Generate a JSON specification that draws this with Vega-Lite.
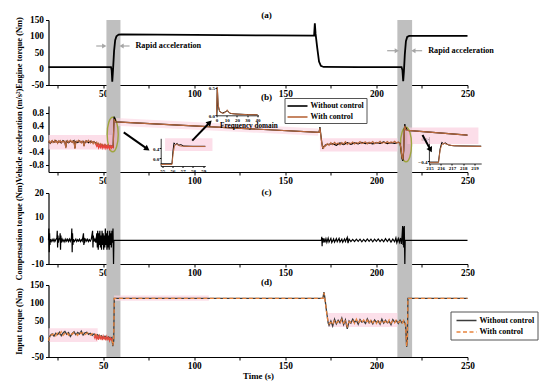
{
"$schema":"https://vega.github.io/schema/vega-lite/v6.json",
"background":"white",
"padding":{"left":14.5,"top":10,"right":5,"bottom":4},
"datasets":{
"ylabs":[{"p":"a","v":150,"label":"150"},{"p":"a","v":100,"label":"100"},{"p":"a","v":50,"label":"50"},{"p":"a","v":0,"label":"0"},{"p":"a","v":-50,"label":"-50"},
{"p":"b","v":0.8,"label":"0.8"},{"p":"b","v":0.4,"label":"0.4"},{"p":"b","v":0,"label":"0.0"},{"p":"b","v":-0.4,"label":"-0.4"},{"p":"b","v":-0.8,"label":"-0.8"},
{"p":"c","v":20,"label":"20"},{"p":"c","v":10,"label":"10"},{"p":"c","v":0,"label":"0"},{"p":"c","v":-10,"label":"-10"},
{"p":"d","v":150,"label":"150"},{"p":"d","v":100,"label":"100"},{"p":"d","v":50,"label":"50"},{"p":"d","v":0,"label":"0"},{"p":"d","v":-50,"label":"-50"}],
"plabels":[{"p":"a","t":139.7,"v":165.4,"label":"(a)"},{"p":"b","t":139.7,"v":1.264,"label":"(b)"},{"p":"c","t":139.7,"v":20.55,"label":"(c)"},{"p":"d","t":139.7,"v":159.2,"label":"(d)"}],
"bands":[{"t":51.8,"t2":59.5},{"t":211.5,"t2":219.6}],
"eng":[{"t":20,"v":5},{"t":54.3,"v":5},{"t":54.7,"v":-5},{"t":55.0,"v":-40},{"t":55.4,"v":-5},{"t":56.0,"v":55},{"t":56.6,"v":88},{"t":57.3,"v":100},{"t":58.5,"v":105},{"t":60,"v":106},{"t":100,"v":104},{"t":140,"v":102.5},{"t":165.8,"v":102},{"t":166.2,"v":140},{"t":166.6,"v":108},{"t":167.5,"v":65},{"t":168.5,"v":22},{"t":169.5,"v":9},{"t":171,"v":5.5},{"t":190,"v":5},{"t":213.8,"v":5},{"t":214.3,"v":-5},{"t":214.7,"v":-38},{"t":215.1,"v":-8},{"t":215.6,"v":45},{"t":216.2,"v":85},{"t":216.9,"v":98},{"t":218,"v":101},{"t":250,"v":101}],
"garrows":[{"t":46.2,"t2":50.4,"v":70},{"t":60.4,"t2":64.5,"v":70},{"t":205.9,"t2":211,"v":55.5},{"t":220.6,"t2":225.1,"v":55.5}],
"gheads":[{"t":50.6,"v":70,"d":"r"},{"t":60.1,"v":70,"d":"l"},{"t":211.2,"v":55.5,"d":"r"},{"t":220.3,"v":55.5,"d":"l"}],
"ann_a":[{"t":67.7,"v":70,"label":"Rapid acceleration"},{"t":228.4,"v":55.5,"label":"Rapid acceleration"}],
"acc":[
{"t":20,"v":-0.08,"s":"Without control"},{"t":21,"v":-0.13,"s":"Without control"},{"t":22,"v":-0.06,"s":"Without control"},{"t":23,"v":-0.10,"s":"Without control"},{"t":24,"v":-0.05,"s":"Without control"},{"t":25,"v":-0.11,"s":"Without control"},{"t":26,"v":-0.07,"s":"Without control"},{"t":27,"v":-0.12,"s":"Without control"},{"t":28,"v":-0.05,"s":"Without control"},{"t":29,"v":-0.09,"s":"Without control"},{"t":29.5,"v":-0.25,"s":"Without control"},{"t":30,"v":-0.07,"s":"Without control"},{"t":31,"v":-0.11,"s":"Without control"},{"t":32,"v":-0.06,"s":"Without control"},{"t":33,"v":-0.09,"s":"Without control"},{"t":34,"v":-0.05,"s":"Without control"},{"t":34.5,"v":-0.27,"s":"Without control"},{"t":35,"v":-0.08,"s":"Without control"},{"t":36,"v":-0.11,"s":"Without control"},{"t":37,"v":-0.06,"s":"Without control"},{"t":38,"v":-0.10,"s":"Without control"},{"t":39,"v":-0.07,"s":"Without control"},{"t":39.5,"v":-0.20,"s":"Without control"},{"t":40,"v":-0.10,"s":"Without control"},{"t":41,"v":-0.06,"s":"Without control"},{"t":42,"v":-0.11,"s":"Without control"},{"t":43,"v":-0.07,"s":"Without control"},{"t":44,"v":-0.10,"s":"Without control"},{"t":45,"v":-0.09,"s":"Without control"},{"t":46,"v":-0.13,"s":"Without control"},{"t":47,"v":-0.15,"s":"Without control"},{"t":48,"v":-0.18,"s":"Without control"},{"t":49,"v":-0.19,"s":"Without control"},{"t":50,"v":-0.21,"s":"Without control"},{"t":51,"v":-0.19,"s":"Without control"},{"t":52,"v":-0.22,"s":"Without control"},{"t":53,"v":-0.21,"s":"Without control"},{"t":54,"v":-0.23,"s":"Without control"},{"t":55,"v":-0.21,"s":"Without control"},{"t":55.5,"v":-0.24,"s":"Without control"},{"t":55.8,"v":0.35,"s":"Without control"},{"t":56.05,"v":0.68,"s":"Without control"},{"t":56.3,"v":0.55,"s":"Without control"},{"t":56.6,"v":0.60,"s":"Without control"},{"t":57,"v":0.52,"s":"Without control"},{"t":168.5,"v":0.20,"s":"Without control"},{"t":169,"v":0.36,"s":"Without control"},{"t":169.5,"v":0.12,"s":"Without control"},{"t":170,"v":-0.10,"s":"Without control"},{"t":170.5,"v":-0.27,"s":"Without control"},{"t":171,"v":-0.24,"s":"Without control"},{"t":172,"v":-0.18,"s":"Without control"},{"t":174,"v":-0.16,"s":"Without control"},{"t":176,"v":-0.14,"s":"Without control"},{"t":178,"v":-0.19,"s":"Without control"},{"t":180,"v":-0.12,"s":"Without control"},{"t":182,"v":-0.17,"s":"Without control"},{"t":184,"v":-0.11,"s":"Without control"},{"t":186,"v":-0.16,"s":"Without control"},{"t":188,"v":-0.12,"s":"Without control"},{"t":190,"v":-0.15,"s":"Without control"},{"t":192,"v":-0.10,"s":"Without control"},{"t":194,"v":-0.14,"s":"Without control"},{"t":196,"v":-0.12,"s":"Without control"},{"t":198,"v":-0.15,"s":"Without control"},{"t":200,"v":-0.11,"s":"Without control"},{"t":202,"v":-0.13,"s":"Without control"},{"t":204,"v":-0.09,"s":"Without control"},{"t":206,"v":-0.14,"s":"Without control"},{"t":208,"v":-0.11,"s":"Without control"},{"t":210,"v":-0.13,"s":"Without control"},{"t":212,"v":-0.10,"s":"Without control"},{"t":213,"v":-0.13,"s":"Without control"},{"t":213.5,"v":-0.32,"s":"Without control"},{"t":214,"v":-0.58,"s":"Without control"},{"t":214.5,"v":-0.66,"s":"Without control"},{"t":215,"v":-0.35,"s":"Without control"},{"t":215.3,"v":0.28,"s":"Without control"},{"t":215.6,"v":0.45,"s":"Without control"},{"t":215.9,"v":0.30,"s":"Without control"},{"t":216.3,"v":0.33,"s":"Without control"},{"t":217,"v":0.26,"s":"Without control"},{"t":250,"v":0.12,"s":"Without control"},
{"t":20,"v":-0.10,"s":"With control"},{"t":20.5,"v":-0.06,"s":"With control"},{"t":21,"v":-0.12,"s":"With control"},{"t":21.5,"v":-0.08,"s":"With control"},{"t":22,"v":-0.05,"s":"With control"},{"t":22.5,"v":-0.11,"s":"With control"},{"t":23,"v":-0.09,"s":"With control"},{"t":23.5,"v":-0.04,"s":"With control"},{"t":24,"v":-0.10,"s":"With control"},{"t":24.5,"v":-0.07,"s":"With control"},{"t":25,"v":-0.13,"s":"With control"},{"t":25.5,"v":-0.06,"s":"With control"},{"t":26,"v":-0.09,"s":"With control"},{"t":26.5,"v":-0.05,"s":"With control"},{"t":27,"v":-0.11,"s":"With control"},{"t":27.5,"v":-0.08,"s":"With control"},{"t":28,"v":-0.06,"s":"With control"},{"t":28.5,"v":-0.10,"s":"With control"},{"t":29,"v":-0.07,"s":"With control"},{"t":29.5,"v":-0.28,"s":"With control"},{"t":30,"v":-0.09,"s":"With control"},{"t":30.5,"v":-0.05,"s":"With control"},{"t":31,"v":-0.10,"s":"With control"},{"t":31.5,"v":-0.07,"s":"With control"},{"t":32,"v":-0.04,"s":"With control"},{"t":32.5,"v":-0.09,"s":"With control"},{"t":33,"v":-0.06,"s":"With control"},{"t":33.5,"v":-0.11,"s":"With control"},{"t":34,"v":-0.07,"s":"With control"},{"t":34.5,"v":-0.30,"s":"With control"},{"t":35,"v":-0.10,"s":"With control"},{"t":35.5,"v":-0.06,"s":"With control"},{"t":36,"v":-0.08,"s":"With control"},{"t":36.5,"v":-0.04,"s":"With control"},{"t":37,"v":-0.09,"s":"With control"},{"t":37.5,"v":-0.07,"s":"With control"},{"t":38,"v":-0.12,"s":"With control"},{"t":38.5,"v":-0.06,"s":"With control"},{"t":39,"v":-0.09,"s":"With control"},{"t":39.5,"v":-0.22,"s":"With control"},{"t":40,"v":-0.08,"s":"With control"},{"t":40.5,"v":-0.05,"s":"With control"},{"t":41,"v":-0.10,"s":"With control"},{"t":41.5,"v":-0.07,"s":"With control"},{"t":42,"v":-0.04,"s":"With control"},{"t":42.5,"v":-0.09,"s":"With control"},{"t":43,"v":-0.12,"s":"With control"},{"t":43.5,"v":-0.06,"s":"With control"},{"t":44,"v":-0.09,"s":"With control"},{"t":44.5,"v":-0.14,"s":"With control"},{"t":45,"v":-0.08,"s":"With control"},{"t":45.5,"v":-0.12,"s":"With control"},{"t":46,"v":-0.16,"s":"With control"},{"t":46.5,"v":-0.10,"s":"With control"},{"t":47,"v":-0.18,"s":"With control"},{"t":47.5,"v":-0.13,"s":"With control"},{"t":48,"v":-0.20,"s":"With control"},{"t":48.5,"v":-0.15,"s":"With control"},{"t":49,"v":-0.22,"s":"With control"},{"t":49.5,"v":-0.16,"s":"With control"},{"t":50,"v":-0.19,"s":"With control"},{"t":50.5,"v":-0.24,"s":"With control"},{"t":51,"v":-0.17,"s":"With control"},{"t":51.5,"v":-0.21,"s":"With control"},{"t":52,"v":-0.25,"s":"With control"},{"t":52.5,"v":-0.18,"s":"With control"},{"t":53,"v":-0.22,"s":"With control"},{"t":53.5,"v":-0.26,"s":"With control"},{"t":54,"v":-0.20,"s":"With control"},{"t":54.5,"v":-0.24,"s":"With control"},{"t":55,"v":-0.22,"s":"With control"},{"t":55.5,"v":-0.25,"s":"With control"},{"t":55.8,"v":0.30,"s":"With control"},{"t":56.0,"v":0.60,"s":"With control"},{"t":56.3,"v":0.56,"s":"With control"},{"t":56.7,"v":0.53,"s":"With control"},{"t":57,"v":0.52,"s":"With control"},{"t":168.5,"v":0.20,"s":"With control"},{"t":169,"v":0.33,"s":"With control"},{"t":169.5,"v":0.10,"s":"With control"},{"t":170,"v":-0.12,"s":"With control"},{"t":170.5,"v":-0.26,"s":"With control"},{"t":171,"v":-0.28,"s":"With control"},{"t":171.5,"v":-0.20,"s":"With control"},{"t":172,"v":-0.22,"s":"With control"},{"t":173,"v":-0.14,"s":"With control"},{"t":174,"v":-0.19,"s":"With control"},{"t":175,"v":-0.11,"s":"With control"},{"t":176,"v":-0.17,"s":"With control"},{"t":177,"v":-0.10,"s":"With control"},{"t":178,"v":-0.16,"s":"With control"},{"t":179,"v":-0.12,"s":"With control"},{"t":180,"v":-0.18,"s":"With control"},{"t":181,"v":-0.11,"s":"With control"},{"t":182,"v":-0.15,"s":"With control"},{"t":183,"v":-0.08,"s":"With control"},{"t":184,"v":-0.16,"s":"With control"},{"t":185,"v":-0.12,"s":"With control"},{"t":186,"v":-0.14,"s":"With control"},{"t":187,"v":-0.09,"s":"With control"},{"t":188,"v":-0.15,"s":"With control"},{"t":189,"v":-0.11,"s":"With control"},{"t":190,"v":-0.13,"s":"With control"},{"t":191,"v":-0.08,"s":"With control"},{"t":192,"v":-0.14,"s":"With control"},{"t":193,"v":-0.11,"s":"With control"},{"t":194,"v":-0.09,"s":"With control"},{"t":195,"v":-0.15,"s":"With control"},{"t":196,"v":-0.10,"s":"With control"},{"t":197,"v":-0.13,"s":"With control"},{"t":198,"v":-0.08,"s":"With control"},{"t":199,"v":-0.14,"s":"With control"},{"t":200,"v":-0.10,"s":"With control"},{"t":201,"v":-0.12,"s":"With control"},{"t":202,"v":-0.07,"s":"With control"},{"t":203,"v":-0.13,"s":"With control"},{"t":204,"v":-0.10,"s":"With control"},{"t":205,"v":-0.12,"s":"With control"},{"t":206,"v":-0.08,"s":"With control"},{"t":207,"v":-0.13,"s":"With control"},{"t":208,"v":-0.09,"s":"With control"},{"t":209,"v":-0.11,"s":"With control"},{"t":210,"v":-0.07,"s":"With control"},{"t":211,"v":-0.12,"s":"With control"},{"t":212,"v":-0.09,"s":"With control"},{"t":213,"v":-0.14,"s":"With control"},{"t":213.5,"v":-0.30,"s":"With control"},{"t":214,"v":-0.55,"s":"With control"},{"t":214.5,"v":-0.62,"s":"With control"},{"t":215,"v":-0.30,"s":"With control"},{"t":215.3,"v":0.25,"s":"With control"},{"t":215.6,"v":0.40,"s":"With control"},{"t":216,"v":0.30,"s":"With control"},{"t":216.5,"v":0.27,"s":"With control"},{"t":217,"v":0.26,"s":"With control"},{"t":250,"v":0.12,"s":"With control"}],
"acc_red":[{"t":46,"v":-0.15},{"t":46.5,"v":-0.22},{"t":47,"v":-0.17},{"t":47.5,"v":-0.27},{"t":48,"v":-0.19},{"t":48.5,"v":-0.26},{"t":49,"v":-0.18},{"t":49.5,"v":-0.28},{"t":50,"v":-0.20},{"t":50.5,"v":-0.27},{"t":51,"v":-0.19},{"t":51.5,"v":-0.29},{"t":52,"v":-0.21},{"t":52.5,"v":-0.28},{"t":53,"v":-0.20},{"t":53.5,"v":-0.30},{"t":54,"v":-0.22},{"t":54.5,"v":-0.28},{"t":55,"v":-0.21},{"t":55.5,"v":-0.27}],
"pink_b":[{"t":20,"t2":55,"v":-0.32,"v2":0.12},{"t":84,"t2":110,"v":-0.36,"v2":0.02},{"t":169,"t2":211.5,"v":-0.38,"v2":0.02},{"t":217,"t2":256,"v":-0.15,"v2":0.35}],
"accband":[{"t":57,"lo":0.40,"hi":0.64},{"t":168,"lo":0.10,"hi":0.32}],
"ell":[{"t":55.24,"v":0.136},{"t":216.24,"v":-0.167}],
"barrows":[{"id":1,"t":61.3,"v":0.2,"t2":74.2,"v2":-0.3},{"id":2,"t":98.9,"v":-0.05,"t2":108.5,"v2":0.5},{"id":3,"t":225.3,"v":0.12,"t2":229.7,"v2":-0.33}],
"in1":[{"t":54.85,"v":-0.22,"s":"Without control"},{"t":55.95,"v":-0.22,"s":"Without control"},{"t":56.05,"v":0.30,"s":"Without control"},{"t":56.15,"v":0.62,"s":"Without control"},{"t":56.3,"v":0.54,"s":"Without control"},{"t":56.45,"v":0.60,"s":"Without control"},{"t":56.6,"v":0.52,"s":"Without control"},{"t":56.8,"v":0.55,"s":"Without control"},{"t":57.1,"v":0.49,"s":"Without control"},{"t":58,"v":0.48,"s":"Without control"},{"t":59.2,"v":0.48,"s":"Without control"},
{"t":54.85,"v":-0.25,"s":"With control"},{"t":55.95,"v":-0.25,"s":"With control"},{"t":56.05,"v":0.15,"s":"With control"},{"t":56.2,"v":0.52,"s":"With control"},{"t":56.4,"v":0.56,"s":"With control"},{"t":56.7,"v":0.50,"s":"With control"},{"t":57,"v":0.48,"s":"With control"},{"t":58,"v":0.47,"s":"With control"},{"t":59.2,"v":0.47,"s":"With control"}],
"in2":[{"f":0,"a":0,"s":"Without control"},{"f":0.6,"a":0.2,"s":"Without control"},{"f":1.0,"a":0.42,"s":"Without control"},{"f":1.6,"a":0.18,"s":"Without control"},{"f":3,"a":0.07,"s":"Without control"},{"f":6,"a":0.04,"s":"Without control"},{"f":9.5,"a":0.07,"s":"Without control"},{"f":11,"a":0.08,"s":"Without control"},{"f":13,"a":0.035,"s":"Without control"},{"f":18,"a":0.025,"s":"Without control"},{"f":28,"a":0.015,"s":"Without control"},{"f":40,"a":0.01,"s":"Without control"},
{"f":0,"a":0,"s":"With control"},{"f":0.5,"a":0.3,"s":"With control"},{"f":0.9,"a":0.5,"s":"With control"},{"f":1.5,"a":0.22,"s":"With control"},{"f":2.5,"a":0.1,"s":"With control"},{"f":4,"a":0.05,"s":"With control"},{"f":7,"a":0.035,"s":"With control"},{"f":9,"a":0.06,"s":"With control"},{"f":10.5,"a":0.1,"s":"With control"},{"f":12,"a":0.05,"s":"With control"},{"f":15,"a":0.03,"s":"With control"},{"f":20,"a":0.02,"s":"With control"},{"f":30,"a":0.012,"s":"With control"},{"f":40,"a":0.01,"s":"With control"}],
"ann_b":[{"f":3.5,"a":-0.185,"label":"Frequency domain"}],
"in3":[{"t":214.95,"v":-0.44,"s":"Without control"},{"t":215.8,"v":-0.44,"s":"Without control"},{"t":215.95,"v":0.05,"s":"Without control"},{"t":216.1,"v":0.28,"s":"Without control"},{"t":216.25,"v":0.22,"s":"Without control"},{"t":216.4,"v":0.26,"s":"Without control"},{"t":216.7,"v":0.18,"s":"Without control"},{"t":217.2,"v":0.15,"s":"Without control"},{"t":219.6,"v":0.14,"s":"Without control"},
{"t":214.95,"v":-0.46,"s":"With control"},{"t":215.8,"v":-0.46,"s":"With control"},{"t":215.95,"v":0.0,"s":"With control"},{"t":216.1,"v":0.2,"s":"With control"},{"t":216.3,"v":0.24,"s":"With control"},{"t":216.6,"v":0.2,"s":"With control"},{"t":217,"v":0.16,"s":"With control"},{"t":218,"v":0.14,"s":"With control"},{"t":219.6,"v":0.13,"s":"With control"}],
"comp":[{"t":20,"v":0},{"t":20.2,"v":5},{"t":20.4,"v":-5},{"t":20.6,"v":3},{"t":20.8,"v":-2},{"t":21,"v":0.5},{"t":21.5,"v":-0.5},{"t":22,"v":0.4},{"t":22.5,"v":-0.4},{"t":23,"v":0.5},{"t":23.5,"v":-0.5},{"t":24,"v":0.3},{"t":24.6,"v":1},{"t":24.8,"v":4},{"t":25,"v":-3},{"t":25.2,"v":2},{"t":25.4,"v":-1},{"t":25.8,"v":0.5},{"t":26.2,"v":1},{"t":26.4,"v":3},{"t":26.6,"v":-4},{"t":26.8,"v":2},{"t":27,"v":-1},{"t":27.5,"v":0.5},{"t":28,"v":-0.5},{"t":28.5,"v":0.3},{"t":29,"v":-0.6},{"t":29.5,"v":0.5},{"t":30,"v":-0.3},{"t":30.5,"v":0.5},{"t":31,"v":-0.5},{"t":31.5,"v":0.5},{"t":32,"v":-0.4},{"t":32.6,"v":1},{"t":32.8,"v":5},{"t":33,"v":-5},{"t":33.2,"v":3},{"t":33.4,"v":-2},{"t":33.7,"v":0.5},{"t":34.2,"v":-0.5},{"t":35,"v":0.5},{"t":35.5,"v":-0.5},{"t":36,"v":0.3},{"t":36.5,"v":-0.3},{"t":37,"v":0.5},{"t":37.5,"v":-0.5},{"t":38,"v":0.3},{"t":38.5,"v":-0.3},{"t":39.2,"v":3},{"t":39.4,"v":-2},{"t":39.6,"v":1},{"t":40,"v":-0.5},{"t":40.5,"v":0.5},{"t":41,"v":-0.3},{"t":41.5,"v":0.5},{"t":42,"v":-0.5},{"t":42.5,"v":0.3},{"t":43,"v":-0.3},{"t":43.5,"v":0.5},{"t":44.2,"v":4},{"t":44.4,"v":-3},{"t":44.6,"v":2},{"t":45,"v":-0.5},{"t":45.5,"v":0.5},{"t":46,"v":-1},{"t":46.5,"v":3},{"t":46.8,"v":-3},{"t":47,"v":4},{"t":47.3,"v":-4},{"t":47.6,"v":3},{"t":47.9,"v":-2},{"t":48.2,"v":4},{"t":48.5,"v":-3},{"t":48.8,"v":2},{"t":49.1,"v":-4},{"t":49.4,"v":4},{"t":49.7,"v":-2},{"t":50,"v":3},{"t":50.3,"v":-4},{"t":50.6,"v":2},{"t":50.9,"v":-3},{"t":51.2,"v":5},{"t":51.5,"v":-2},{"t":51.8,"v":3},{"t":52.1,"v":-4},{"t":52.4,"v":4},{"t":52.7,"v":-3},{"t":53,"v":2},{"t":53.3,"v":-4},{"t":53.6,"v":4},{"t":53.9,"v":-2},{"t":54.2,"v":3},{"t":54.5,"v":-3},{"t":54.8,"v":4},{"t":55.1,"v":-1},{"t":55.4,"v":5},{"t":55.7,"v":-10},{"t":55.9,"v":0},{"t":169.8,"v":0},{"t":170,"v":1.5},{"t":170.2,"v":-2.5},{"t":170.4,"v":1},{"t":170.7,"v":-1},{"t":171.2,"v":0.8},{"t":171.7,"v":-0.9},{"t":172.3,"v":0.7},{"t":172.8,"v":-0.8},{"t":173.5,"v":0.9},{"t":174,"v":-0.7},{"t":175,"v":0.8},{"t":175.5,"v":-0.9},{"t":176.5,"v":0.6},{"t":177,"v":-0.8},{"t":178,"v":0.7},{"t":178.5,"v":-0.6},{"t":179.5,"v":0.8},{"t":180,"v":-0.7},{"t":181,"v":0.5},{"t":181.5,"v":-0.8},{"t":182.5,"v":0.6},{"t":183,"v":-0.5},{"t":184,"v":1.2},{"t":184.4,"v":-1.2},{"t":185,"v":0.5},{"t":186,"v":-0.5},{"t":187,"v":0.4},{"t":188,"v":-0.5},{"t":189,"v":0.5},{"t":190,"v":-0.4},{"t":191,"v":0.5},{"t":192,"v":-0.6},{"t":193,"v":0.4},{"t":194,"v":-0.5},{"t":195,"v":0.6},{"t":196,"v":-0.4},{"t":197,"v":0.5},{"t":198,"v":-0.6},{"t":199,"v":0.5},{"t":200,"v":-0.4},{"t":201,"v":0.6},{"t":202,"v":-0.5},{"t":203,"v":0.4},{"t":204,"v":-0.6},{"t":205,"v":0.7},{"t":206,"v":-0.5},{"t":207,"v":0.6},{"t":208,"v":-0.7},{"t":209,"v":0.5},{"t":210,"v":-0.6},{"t":210.7,"v":1},{"t":211.2,"v":-1},{"t":212,"v":0.8},{"t":212.6,"v":-0.8},{"t":213.2,"v":1},{"t":213.7,"v":-1.5},{"t":214.1,"v":2},{"t":214.4,"v":6},{"t":214.6,"v":-2},{"t":214.8,"v":5.5},{"t":215.0,"v":-3},{"t":215.3,"v":6},{"t":215.6,"v":-10},{"t":215.8,"v":0},{"t":250,"v":0}],
"inp":[
{"t":20,"v":-8,"s":"Without control"},{"t":20.5,"v":4,"s":"Without control"},{"t":21,"v":10,"s":"Without control"},{"t":22,"v":14,"s":"Without control"},{"t":23,"v":8,"s":"Without control"},{"t":24,"v":16,"s":"Without control"},{"t":25,"v":12,"s":"Without control"},{"t":26,"v":19,"s":"Without control"},{"t":27,"v":9,"s":"Without control"},{"t":28,"v":17,"s":"Without control"},{"t":29,"v":21,"s":"Without control"},{"t":30,"v":13,"s":"Without control"},{"t":31,"v":18,"s":"Without control"},{"t":32,"v":7,"s":"Without control"},{"t":33,"v":15,"s":"Without control"},{"t":34,"v":20,"s":"Without control"},{"t":35,"v":12,"s":"Without control"},{"t":36,"v":18,"s":"Without control"},{"t":37,"v":14,"s":"Without control"},{"t":38,"v":22,"s":"Without control"},{"t":39,"v":11,"s":"Without control"},{"t":40,"v":17,"s":"Without control"},{"t":41,"v":19,"s":"Without control"},{"t":42,"v":13,"s":"Without control"},{"t":43,"v":16,"s":"Without control"},{"t":44,"v":10,"s":"Without control"},{"t":45,"v":14,"s":"Without control"},{"t":46,"v":8,"s":"Without control"},{"t":47,"v":12,"s":"Without control"},{"t":48,"v":5,"s":"Without control"},{"t":49,"v":9,"s":"Without control"},{"t":50,"v":3,"s":"Without control"},{"t":51,"v":8,"s":"Without control"},{"t":52,"v":2,"s":"Without control"},{"t":53,"v":6,"s":"Without control"},{"t":54,"v":0,"s":"Without control"},{"t":54.8,"v":4,"s":"Without control"},{"t":55.3,"v":-20,"s":"Without control"},{"t":55.8,"v":-5,"s":"Without control"},{"t":56.1,"v":113,"s":"Without control"},{"t":170.6,"v":113,"s":"Without control"},{"t":171.2,"v":130,"s":"Without control"},{"t":171.6,"v":118,"s":"Without control"},{"t":172.5,"v":82,"s":"Without control"},{"t":173.5,"v":45,"s":"Without control"},{"t":174,"v":38,"s":"Without control"},{"t":175,"v":50,"s":"Without control"},{"t":176,"v":36,"s":"Without control"},{"t":177,"v":55,"s":"Without control"},{"t":178,"v":42,"s":"Without control"},{"t":179,"v":52,"s":"Without control"},{"t":180,"v":45,"s":"Without control"},{"t":181,"v":58,"s":"Without control"},{"t":182,"v":40,"s":"Without control"},{"t":183,"v":53,"s":"Without control"},{"t":184,"v":28,"s":"Without control"},{"t":185,"v":50,"s":"Without control"},{"t":186,"v":44,"s":"Without control"},{"t":187,"v":55,"s":"Without control"},{"t":188,"v":46,"s":"Without control"},{"t":189,"v":52,"s":"Without control"},{"t":190,"v":41,"s":"Without control"},{"t":191,"v":54,"s":"Without control"},{"t":192,"v":47,"s":"Without control"},{"t":193,"v":50,"s":"Without control"},{"t":194,"v":43,"s":"Without control"},{"t":195,"v":56,"s":"Without control"},{"t":196,"v":45,"s":"Without control"},{"t":197,"v":51,"s":"Without control"},{"t":198,"v":42,"s":"Without control"},{"t":199,"v":53,"s":"Without control"},{"t":200,"v":46,"s":"Without control"},{"t":201,"v":50,"s":"Without control"},{"t":202,"v":41,"s":"Without control"},{"t":203,"v":55,"s":"Without control"},{"t":204,"v":44,"s":"Without control"},{"t":205,"v":52,"s":"Without control"},{"t":206,"v":45,"s":"Without control"},{"t":207,"v":49,"s":"Without control"},{"t":208,"v":40,"s":"Without control"},{"t":209,"v":54,"s":"Without control"},{"t":210,"v":47,"s":"Without control"},{"t":211,"v":51,"s":"Without control"},{"t":212,"v":43,"s":"Without control"},{"t":213,"v":52,"s":"Without control"},{"t":214,"v":45,"s":"Without control"},{"t":215,"v":50,"s":"Without control"},{"t":216,"v":40,"s":"Without control"},{"t":216.6,"v":-22,"s":"Without control"},{"t":217,"v":-5,"s":"Without control"},{"t":217.3,"v":113,"s":"Without control"},{"t":250,"v":113,"s":"Without control"},
{"t":20,"v":-5,"s":"With control"},{"t":20.5,"v":3,"s":"With control"},{"t":21,"v":12,"s":"With control"},{"t":22,"v":11,"s":"With control"},{"t":23,"v":15,"s":"With control"},{"t":24,"v":9,"s":"With control"},{"t":25,"v":18,"s":"With control"},{"t":26,"v":13,"s":"With control"},{"t":27,"v":20,"s":"With control"},{"t":28,"v":10,"s":"With control"},{"t":29,"v":16,"s":"With control"},{"t":30,"v":19,"s":"With control"},{"t":31,"v":11,"s":"With control"},{"t":32,"v":17,"s":"With control"},{"t":33,"v":13,"s":"With control"},{"t":34,"v":18,"s":"With control"},{"t":35,"v":16,"s":"With control"},{"t":36,"v":10,"s":"With control"},{"t":37,"v":19,"s":"With control"},{"t":38,"v":15,"s":"With control"},{"t":39,"v":18,"s":"With control"},{"t":40,"v":12,"s":"With control"},{"t":41,"v":16,"s":"With control"},{"t":42,"v":18,"s":"With control"},{"t":43,"v":11,"s":"With control"},{"t":44,"v":15,"s":"With control"},{"t":45,"v":9,"s":"With control"},{"t":46,"v":13,"s":"With control"},{"t":47,"v":6,"s":"With control"},{"t":48,"v":10,"s":"With control"},{"t":49,"v":4,"s":"With control"},{"t":50,"v":8,"s":"With control"},{"t":51,"v":1,"s":"With control"},{"t":52,"v":6,"s":"With control"},{"t":53,"v":-1,"s":"With control"},{"t":54,"v":4,"s":"With control"},{"t":54.8,"v":1,"s":"With control"},{"t":55.3,"v":-18,"s":"With control"},{"t":55.8,"v":-3,"s":"With control"},{"t":56.1,"v":113,"s":"With control"},{"t":170.6,"v":113,"s":"With control"},{"t":171.2,"v":128,"s":"With control"},{"t":171.6,"v":116,"s":"With control"},{"t":172.5,"v":80,"s":"With control"},{"t":173.5,"v":44,"s":"With control"},{"t":174,"v":42,"s":"With control"},{"t":175,"v":46,"s":"With control"},{"t":176,"v":40,"s":"With control"},{"t":177,"v":52,"s":"With control"},{"t":178,"v":45,"s":"With control"},{"t":179,"v":49,"s":"With control"},{"t":180,"v":43,"s":"With control"},{"t":181,"v":54,"s":"With control"},{"t":182,"v":44,"s":"With control"},{"t":183,"v":50,"s":"With control"},{"t":184,"v":35,"s":"With control"},{"t":185,"v":48,"s":"With control"},{"t":186,"v":46,"s":"With control"},{"t":187,"v":52,"s":"With control"},{"t":188,"v":43,"s":"With control"},{"t":189,"v":55,"s":"With control"},{"t":190,"v":44,"s":"With control"},{"t":191,"v":51,"s":"With control"},{"t":192,"v":45,"s":"With control"},{"t":193,"v":53,"s":"With control"},{"t":194,"v":46,"s":"With control"},{"t":195,"v":52,"s":"With control"},{"t":196,"v":42,"s":"With control"},{"t":197,"v":54,"s":"With control"},{"t":198,"v":45,"s":"With control"},{"t":199,"v":50,"s":"With control"},{"t":200,"v":43,"s":"With control"},{"t":201,"v":53,"s":"With control"},{"t":202,"v":44,"s":"With control"},{"t":203,"v":51,"s":"With control"},{"t":204,"v":47,"s":"With control"},{"t":205,"v":49,"s":"With control"},{"t":206,"v":42,"s":"With control"},{"t":207,"v":53,"s":"With control"},{"t":208,"v":44,"s":"With control"},{"t":209,"v":51,"s":"With control"},{"t":210,"v":45,"s":"With control"},{"t":211,"v":54,"s":"With control"},{"t":212,"v":46,"s":"With control"},{"t":213,"v":49,"s":"With control"},{"t":214,"v":42,"s":"With control"},{"t":215,"v":52,"s":"With control"},{"t":216,"v":38,"s":"With control"},{"t":216.6,"v":-20,"s":"With control"},{"t":217,"v":-3,"s":"With control"},{"t":217.3,"v":113,"s":"With control"},{"t":250,"v":113,"s":"With control"}],
"inp_red":[{"t":45,"v":8},{"t":45.5,"v":2},{"t":46,"v":10},{"t":46.5,"v":0},{"t":47,"v":7},{"t":47.5,"v":-2},{"t":48,"v":9},{"t":48.5,"v":1},{"t":49,"v":6},{"t":49.5,"v":-3},{"t":50,"v":8},{"t":50.5,"v":0},{"t":51,"v":5},{"t":51.5,"v":-4},{"t":52,"v":7},{"t":52.5,"v":-1},{"t":53,"v":4},{"t":53.5,"v":-5},{"t":54,"v":3},{"t":54.5,"v":-3},{"t":55,"v":2}],
"pink_d":[{"t":20,"t2":47,"v":-8,"v2":30},{"t":56,"t2":108,"v":106,"v2":121},{"t":173.5,"t2":211.5,"v":33,"v2":72}]
},
"config":{
"view":{"stroke":null},
"font":"Liberation Serif",
"axis":{"labelFont":"Liberation Serif","labelFontWeight":"bold","labelFontSize":9.3,"labelColor":"black","titleFont":"Liberation Serif","titleFontWeight":"bold","titleFontSize":8.4,"titleColor":"black","domainColor":"black","domainWidth":1.2,"tickColor":"black","tickSize":3,"tickWidth":1,"labelPadding":1.5,"grid":false,"labelFlush":false}
},
"vconcat":[
{"width":419,"height":65,
"layer":[
{"data":{"name":"bands"},"mark":{"type":"rect","color":"#bfbfbf"},
"encoding":{"x":{"field":"t","type":"quantitative","scale":{"domain":[20,250],"nice":false,"zero":false}},"x2":{"field":"t2"},
"y":{"datum":150,"type":"quantitative","scale":{"domain":[-50,150],"nice":false,"zero":false}},"y2":{"datum":-114.6}}},
{"data":{"name":"eng"},"mark":{"type":"line","color":"black","strokeWidth":1.8},
"encoding":{"x":{"field":"t","type":"quantitative","scale":{"domain":[20,250],"nice":false,"zero":false},"axis":{"values":[25,50,75,100,125,150,175,200,225,250],"labelExpr":"datum.value % 50 == 0 ? datum.label : ''","title":null}},
"y":{"field":"v","type":"quantitative","scale":{"domain":[-50,150],"nice":false,"zero":false},"axis":{"values":[-50,0,50,100,150],"labels":false,"title":"Engine torque (Nm)","titleX":-25,"titleY":32.5}}}},
{"data":{"name":"ylabs"},"transform":[{"filter":"datum.p == 'a'"}],"mark":{"type":"text","align":"right","baseline":"middle","dx":-4.5,"font":"Liberation Serif","fontWeight":"bold","fontSize":9.3,"color":"black"},
"encoding":{"x":{"datum":20,"type":"quantitative","scale":{"domain":[20,250],"nice":false,"zero":false}},
"y":{"field":"v","type":"quantitative","scale":{"domain":[-50,150],"nice":false,"zero":false}},"text":{"field":"label"}}},
{"data":{"name":"garrows"},"mark":{"type":"rule","color":"#a6a6a6","strokeWidth":1.2},
"encoding":{"x":{"field":"t","type":"quantitative","scale":{"domain":[20,250],"nice":false,"zero":false}},"x2":{"field":"t2"},
"y":{"field":"v","type":"quantitative","scale":{"domain":[-50,150],"nice":false,"zero":false}}}},
{"data":{"name":"gheads"},"mark":{"type":"point","filled":true,"color":"#a6a6a6","size":24,"opacity":1},
"encoding":{"x":{"field":"t","type":"quantitative","scale":{"domain":[20,250],"nice":false,"zero":false}},
"y":{"field":"v","type":"quantitative","scale":{"domain":[-50,150],"nice":false,"zero":false}},
"shape":{"field":"d","type":"nominal","scale":{"domain":["r","l"],"range":["triangle-right","triangle-left"]},"legend":null}}},
{"data":{"name":"ann_a"},"mark":{"type":"text","align":"left","baseline":"middle","font":"Liberation Serif","fontWeight":"bold","fontSize":8.2,"color":"black"},
"encoding":{"x":{"field":"t","type":"quantitative","scale":{"domain":[20,250],"nice":false,"zero":false}},
"y":{"field":"v","type":"quantitative","scale":{"domain":[-50,150],"nice":false,"zero":false}},"text":{"field":"label"}}},
{"data":{"name":"plabels"},"transform":[{"filter":"datum.p == 'a'"}],"mark":{"type":"text","align":"center","baseline":"middle","font":"Liberation Serif","fontWeight":"bold","fontSize":9.2,"color":"black"},
"encoding":{"x":{"field":"t","type":"quantitative","scale":{"domain":[20,250],"nice":false,"zero":false}},
"y":{"field":"v","type":"quantitative","scale":{"domain":[-50,150],"nice":false,"zero":false}},"text":{"field":"label"}}}
]},
{"width":419,"height":66,
"resolve":{"scale":{"x":"independent","y":"independent"}},
"layer":[
{"layer":[
{"data":{"name":"bands"},"mark":{"type":"rect","color":"#bfbfbf"},
"encoding":{"x":{"field":"t","type":"quantitative","scale":{"domain":[20,250],"nice":false,"zero":false}},"x2":{"field":"t2"},
"y":{"datum":1,"type":"quantitative","scale":{"domain":[-1,1],"nice":false,"zero":false}},"y2":{"datum":-1.636}}},
{"data":{"name":"pink_b"},"mark":{"type":"rect","color":"#fbd3e1","opacity":0.75},
"encoding":{"x":{"field":"t","type":"quantitative","scale":{"domain":[20,250],"nice":false,"zero":false}},"x2":{"field":"t2"},
"y":{"field":"v","type":"quantitative","scale":{"domain":[-1,1],"nice":false,"zero":false}},"y2":{"field":"v2"}}},
{"data":{"name":"accband"},"mark":{"type":"area","color":"#fbd3e1","opacity":0.6},
"encoding":{"x":{"field":"t","type":"quantitative","scale":{"domain":[20,250],"nice":false,"zero":false}},
"y":{"field":"lo","type":"quantitative","scale":{"domain":[-1,1],"nice":false,"zero":false}},"y2":{"field":"hi"}}},
{"data":{"name":"ell"},"mark":{"type":"point","shape":"M0,-1A0.32,1,0,1,1,0,1A0.32,1,0,1,1,0,-1Z","size":1190,"filled":true,"fill":"#f2a7bf","fillOpacity":0.55,"stroke":"#9ea53e","strokeWidth":1.4,"opacity":1},
"encoding":{"x":{"field":"t","type":"quantitative","scale":{"domain":[20,250],"nice":false,"zero":false}},
"y":{"field":"v","type":"quantitative","scale":{"domain":[-1,1],"nice":false,"zero":false}}}},
{"data":{"name":"acc"},"transform":[{"filter":"datum.s == 'Without control'"}],"mark":{"type":"line","strokeWidth":1.2},
"encoding":{"x":{"field":"t","type":"quantitative","scale":{"domain":[20,250],"nice":false,"zero":false},"axis":{"values":[25,50,75,100,125,150,175,200,225,250],"labelExpr":"datum.value % 50 == 0 ? datum.label : ''","title":null}},
"y":{"field":"v","type":"quantitative","scale":{"domain":[-1,1],"nice":false,"zero":false},"axis":{"values":[-0.8,-0.4,0,0.4,0.8],"labels":false,"title":"Vehicle acceleration (m/s²)","titleX":-25,"titleY":29}},
"color":{"field":"s","type":"nominal","scale":{"domain":["Without control","With control"],"range":["#000000","#b8683c"]},
"legend":{"orient":"none","legendX":236,"legendY":-8,"title":null,"symbolType":"M-1,0L3,0","symbolSize":100,"symbolStrokeWidth":1.6,"labelFont":"Liberation Serif","labelFontWeight":"bold","labelFontSize":7.8,"labelColor":"black","strokeColor":"#555555","padding":2,"rowPadding":1,"labelOffset":12,"fillColor":"white"}}}},
{"data":{"name":"acc"},"transform":[{"filter":"datum.s == 'With control'"}],"mark":{"type":"line","strokeWidth":1.2},
"encoding":{"x":{"field":"t","type":"quantitative","scale":{"domain":[20,250],"nice":false,"zero":false}},
"y":{"field":"v","type":"quantitative","scale":{"domain":[-1,1],"nice":false,"zero":false}},
"color":{"field":"s","type":"nominal","scale":{"domain":["Without control","With control"],"range":["#000000","#b8683c"]}}}},
{"data":{"name":"acc_red"},"mark":{"type":"line","color":"#e8413c","strokeWidth":1.2},
"encoding":{"x":{"field":"t","type":"quantitative","scale":{"domain":[20,250],"nice":false,"zero":false}},
"y":{"field":"v","type":"quantitative","scale":{"domain":[-1,1],"nice":false,"zero":false}}}},
{"data":{"name":"ylabs"},"transform":[{"filter":"datum.p == 'b'"}],"mark":{"type":"text","align":"right","baseline":"middle","dx":-4.5,"font":"Liberation Serif","fontWeight":"bold","fontSize":9.3,"color":"black"},
"encoding":{"x":{"datum":20,"type":"quantitative","scale":{"domain":[20,250],"nice":false,"zero":false}},
"y":{"field":"v","type":"quantitative","scale":{"domain":[-1,1],"nice":false,"zero":false}},"text":{"field":"label"}}},
{"data":{"name":"barrows"},"mark":{"type":"rule","color":"black","strokeWidth":2},
"encoding":{"x":{"field":"t","type":"quantitative","scale":{"domain":[20,250],"nice":false,"zero":false}},"x2":{"field":"t2"},
"y":{"field":"v","type":"quantitative","scale":{"domain":[-1,1],"nice":false,"zero":false}},"y2":{"field":"v2"}}},
{"data":{"name":"barrows"},"transform":[{"filter":"datum.id == 1"}],"mark":{"type":"point","shape":"triangle-right","filled":true,"color":"black","size":40,"angle":35,"opacity":1},
"encoding":{"x":{"field":"t2","type":"quantitative","scale":{"domain":[20,250],"nice":false,"zero":false}},
"y":{"field":"v2","type":"quantitative","scale":{"domain":[-1,1],"nice":false,"zero":false}}}},
{"data":{"name":"barrows"},"transform":[{"filter":"datum.id == 2"}],"mark":{"type":"point","shape":"triangle-right","filled":true,"color":"black","size":40,"angle":-46,"opacity":1},
"encoding":{"x":{"field":"t2","type":"quantitative","scale":{"domain":[20,250],"nice":false,"zero":false}},
"y":{"field":"v2","type":"quantitative","scale":{"domain":[-1,1],"nice":false,"zero":false}}}},
{"data":{"name":"barrows"},"transform":[{"filter":"datum.id == 3"}],"mark":{"type":"point","shape":"triangle-right","filled":true,"color":"black","size":40,"angle":62,"opacity":1},
"encoding":{"x":{"field":"t2","type":"quantitative","scale":{"domain":[20,250],"nice":false,"zero":false}},
"y":{"field":"v2","type":"quantitative","scale":{"domain":[-1,1],"nice":false,"zero":false}}}},
{"data":{"name":"plabels"},"transform":[{"filter":"datum.p == 'b'"}],"mark":{"type":"text","align":"center","baseline":"middle","font":"Liberation Serif","fontWeight":"bold","fontSize":9.2,"color":"black"},
"encoding":{"x":{"field":"t","type":"quantitative","scale":{"domain":[20,250],"nice":false,"zero":false}},
"y":{"field":"v","type":"quantitative","scale":{"domain":[-1,1],"nice":false,"zero":false}},"text":{"field":"label"}}}
]},
{"data":{"name":"in1"},"layer":[
{"transform":[{"filter":"datum.s == 'Without control'"}],"mark":{"type":"line","color":"black","strokeWidth":1},
"encoding":{"x":{"field":"t","type":"quantitative","scale":{"domain":[54.85,59.2],"range":[112.2,156.8],"nice":false,"zero":false},"axis":{"orient":"bottom","offset":-6,"values":[55,56,57,58,59],"format":"d","labelFontSize":5,"tickSize":1.5,"labelPadding":0.5,"domainWidth":0.8,"title":null}},
"y":{"field":"v","type":"quantitative","scale":{"domain":[-0.31,0.8],"range":[60.05,32.3],"nice":false,"zero":false},"axis":{"orient":"left","offset":-112.2,"values":[0,0.4],"format":".1f","labelFontSize":5,"tickSize":1.5,"labelPadding":0.5,"domainWidth":0.8,"title":null}}}},
{"transform":[{"filter":"datum.s == 'With control'"}],"mark":{"type":"line","color":"#b8683c","strokeWidth":1},
"encoding":{"x":{"field":"t","type":"quantitative","scale":{"domain":[54.85,59.2],"range":[112.2,156.8],"nice":false,"zero":false}},
"y":{"field":"v","type":"quantitative","scale":{"domain":[-0.31,0.8],"range":[60.05,32.3],"nice":false,"zero":false}}}}
]},
{"layer":[
{"data":{"name":"in2"},"transform":[{"filter":"datum.s == 'Without control'"}],"mark":{"type":"line","color":"black","strokeWidth":1},
"encoding":{"x":{"field":"f","type":"quantitative","scale":{"domain":[0,41],"range":[168,210],"nice":false,"zero":false},"axis":{"orient":"bottom","offset":-56.7,"values":[0,10,20,30,40],"format":"d","labelFontSize":5,"tickSize":1.5,"labelPadding":0.5,"domainWidth":0.8,"title":null}},
"y":{"field":"a","type":"quantitative","scale":{"domain":[0,0.52],"range":[9.3,-19.6],"nice":false,"zero":false},"axis":{"orient":"left","offset":-168,"values":[0,0.5],"format":".1f","labelFontSize":5,"tickSize":1.5,"labelPadding":0.5,"domainWidth":0.8,"title":null}}}},
{"data":{"name":"in2"},"transform":[{"filter":"datum.s == 'With control'"}],"mark":{"type":"line","color":"#b8683c","strokeWidth":1},
"encoding":{"x":{"field":"f","type":"quantitative","scale":{"domain":[0,41],"range":[168,210],"nice":false,"zero":false}},
"y":{"field":"a","type":"quantitative","scale":{"domain":[0,0.52],"range":[9.3,-19.6],"nice":false,"zero":false}}}},
{"data":{"name":"ann_b"},"mark":{"type":"text","align":"left","baseline":"middle","font":"Liberation Serif","fontWeight":"bold","fontSize":7.2,"color":"black"},
"encoding":{"x":{"field":"f","type":"quantitative","scale":{"domain":[0,41],"range":[168,210],"nice":false,"zero":false}},
"y":{"field":"a","type":"quantitative","scale":{"domain":[0,0.52],"range":[9.3,-19.6],"nice":false,"zero":false}},"text":{"field":"label"}}}
]},
{"data":{"name":"in3"},"layer":[
{"transform":[{"filter":"datum.s == 'Without control'"}],"mark":{"type":"line","color":"black","strokeWidth":1},
"encoding":{"x":{"field":"t","type":"quantitative","scale":{"domain":[214.95,219.6],"range":[380.4,432.7],"nice":false,"zero":false},"axis":{"orient":"bottom","offset":-8.5,"values":[215,216,217,218,219],"format":"d","labelFontSize":5,"tickSize":1.5,"labelPadding":0.5,"domainWidth":0.8,"title":null}},
"y":{"field":"v","type":"quantitative","scale":{"domain":[-0.49,0.49],"range":[57.5,30.5],"nice":false,"zero":false},"axis":{"orient":"left","offset":-380.4,"values":[-0.4,0,0.4],"format":".1f","labelFontSize":5,"tickSize":1.5,"labelPadding":0.5,"domainWidth":0.8,"title":null}}}},
{"transform":[{"filter":"datum.s == 'With control'"}],"mark":{"type":"line","color":"#b8683c","strokeWidth":1},
"encoding":{"x":{"field":"t","type":"quantitative","scale":{"domain":[214.95,219.6],"range":[380.4,432.7],"nice":false,"zero":false}},
"y":{"field":"v","type":"quantitative","scale":{"domain":[-0.49,0.49],"range":[57.5,30.5],"nice":false,"zero":false}}}}
]}
]},
{"width":419,"height":71,
"layer":[
{"data":{"name":"bands"},"mark":{"type":"rect","color":"#bfbfbf"},
"encoding":{"x":{"field":"t","type":"quantitative","scale":{"domain":[20,250],"nice":false,"zero":false}},"x2":{"field":"t2"},
"y":{"datum":20,"type":"quantitative","scale":{"domain":[-10,20],"nice":false,"zero":false}},"y2":{"datum":-18.87}}},
{"data":{"name":"comp"},"mark":{"type":"line","color":"black","strokeWidth":1.2},
"encoding":{"x":{"field":"t","type":"quantitative","scale":{"domain":[20,250],"nice":false,"zero":false},"axis":{"values":[25,50,75,100,125,150,175,200,225,250],"labelExpr":"datum.value % 50 == 0 ? datum.label : ''","title":null}},
"y":{"field":"v","type":"quantitative","scale":{"domain":[-10,20],"nice":false,"zero":false},"axis":{"values":[-10,0,10,20],"labels":false,"title":"Compensation torque (Nm)","titleX":-25,"titleY":38}}}},
{"data":{"name":"ylabs"},"transform":[{"filter":"datum.p == 'c'"}],"mark":{"type":"text","align":"right","baseline":"middle","dx":-4.5,"font":"Liberation Serif","fontWeight":"bold","fontSize":9.3,"color":"black"},
"encoding":{"x":{"datum":20,"type":"quantitative","scale":{"domain":[20,250],"nice":false,"zero":false}},
"y":{"field":"v","type":"quantitative","scale":{"domain":[-10,20],"nice":false,"zero":false}},"text":{"field":"label"}}},
{"data":{"name":"plabels"},"transform":[{"filter":"datum.p == 'c'"}],"mark":{"type":"text","align":"center","baseline":"middle","font":"Liberation Serif","fontWeight":"bold","fontSize":9.2,"color":"black"},
"encoding":{"x":{"field":"t","type":"quantitative","scale":{"domain":[20,250],"nice":false,"zero":false}},
"y":{"field":"v","type":"quantitative","scale":{"domain":[-10,20],"nice":false,"zero":false}},"text":{"field":"label"}}}
]},
{"width":419,"height":72,
"layer":[
{"data":{"name":"bands"},"mark":{"type":"rect","color":"#bfbfbf"},
"encoding":{"x":{"field":"t","type":"quantitative","scale":{"domain":[20,250],"nice":false,"zero":false}},"x2":{"field":"t2"},
"y":{"datum":150,"type":"quantitative","scale":{"domain":[-50,150],"nice":false,"zero":false}},"y2":{"datum":-50}}},
{"data":{"name":"pink_d"},"mark":{"type":"rect","color":"#fbd3e1","opacity":0.7},
"encoding":{"x":{"field":"t","type":"quantitative","scale":{"domain":[20,250],"nice":false,"zero":false}},"x2":{"field":"t2"},
"y":{"field":"v","type":"quantitative","scale":{"domain":[-50,150],"nice":false,"zero":false}},"y2":{"field":"v2"}}},
{"data":{"name":"inp"},"transform":[{"filter":"datum.s == 'Without control'"}],"mark":{"type":"line","strokeWidth":1.3},
"encoding":{"x":{"field":"t","type":"quantitative","scale":{"domain":[20,250],"nice":false,"zero":false},"axis":{"values":[25,50,75,100,125,150,175,200,225,250],"labelExpr":"datum.value % 50 == 0 ? datum.label : ''","title":"Time (s)","titlePadding":1,"titleFontSize":8.8}},
"y":{"field":"v","type":"quantitative","scale":{"domain":[-50,150],"nice":false,"zero":false},"axis":{"values":[-50,0,50,100,150],"labels":false,"title":"Input torque (Nm)","titleX":-25,"titleY":36}},
"color":{"field":"s","type":"nominal","scale":{"domain":["Without control","With control"],"range":["#3c3c3c","#e8843e"]},
"legend":{"orient":"none","legendX":402,"legendY":26.5,"title":null,"symbolType":"M-0.6,0L3.4,0","symbolSize":100,"symbolStrokeWidth":1.6,"labelFont":"Liberation Serif","labelFontWeight":"bold","labelFontSize":8,"labelColor":"black","strokeColor":"#555555","padding":3,"rowPadding":1.5,"labelOffset":14,"fillColor":"white"}},
"strokeDash":{"field":"s","type":"nominal","scale":{"domain":["Without control","With control"],"range":[[1,0],[4,2.5]]},
"legend":{"orient":"none","legendX":402,"legendY":26.5,"title":null,"symbolType":"M-0.6,0L3.4,0","symbolSize":100,"symbolStrokeWidth":1.6,"labelFont":"Liberation Serif","labelFontWeight":"bold","labelFontSize":8,"labelColor":"black","strokeColor":"#555555","padding":3,"rowPadding":1.5,"labelOffset":14,"fillColor":"white"}}}},
{"data":{"name":"inp"},"transform":[{"filter":"datum.s == 'With control'"}],"mark":{"type":"line","strokeWidth":1.3},
"encoding":{"x":{"field":"t","type":"quantitative","scale":{"domain":[20,250],"nice":false,"zero":false}},
"y":{"field":"v","type":"quantitative","scale":{"domain":[-50,150],"nice":false,"zero":false}},
"color":{"field":"s","type":"nominal","scale":{"domain":["Without control","With control"],"range":["#3c3c3c","#e8843e"]}},
"strokeDash":{"field":"s","type":"nominal","scale":{"domain":["Without control","With control"],"range":[[1,0],[4,2.5]]}}}},
{"data":{"name":"inp_red"},"mark":{"type":"line","color":"#e2483d","strokeWidth":1.2},
"encoding":{"x":{"field":"t","type":"quantitative","scale":{"domain":[20,250],"nice":false,"zero":false}},
"y":{"field":"v","type":"quantitative","scale":{"domain":[-50,150],"nice":false,"zero":false}}}},
{"data":{"name":"ylabs"},"transform":[{"filter":"datum.p == 'd'"}],"mark":{"type":"text","align":"right","baseline":"middle","dx":-4.5,"font":"Liberation Serif","fontWeight":"bold","fontSize":9.3,"color":"black"},
"encoding":{"x":{"datum":20,"type":"quantitative","scale":{"domain":[20,250],"nice":false,"zero":false}},
"y":{"field":"v","type":"quantitative","scale":{"domain":[-50,150],"nice":false,"zero":false}},"text":{"field":"label"}}},
{"data":{"name":"plabels"},"transform":[{"filter":"datum.p == 'd'"}],"mark":{"type":"text","align":"center","baseline":"middle","font":"Liberation Serif","fontWeight":"bold","fontSize":9.2,"color":"black"},
"encoding":{"x":{"field":"t","type":"quantitative","scale":{"domain":[20,250],"nice":false,"zero":false}},
"y":{"field":"v","type":"quantitative","scale":{"domain":[-50,150],"nice":false,"zero":false}},"text":{"field":"label"}}}
]}
],
"spacing":21,"bounds":"flush",
"resolve":{"scale":{"color":"independent","strokeDash":"independent","shape":"independent"},"legend":{"color":"independent","strokeDash":"independent"}}
}
